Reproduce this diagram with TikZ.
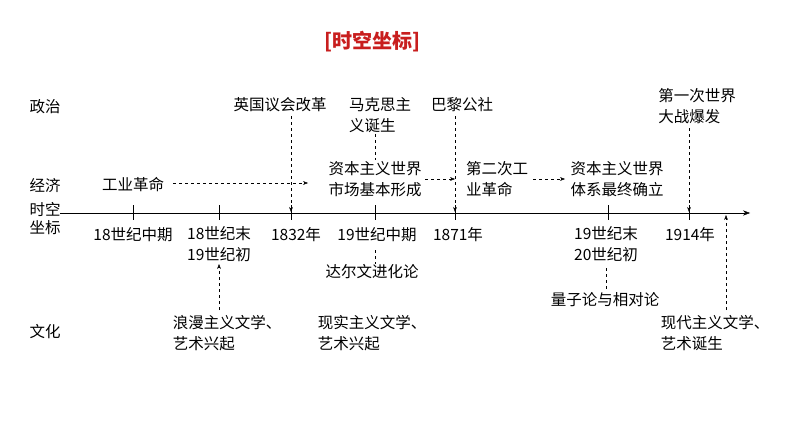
\documentclass[tikz,border=0pt]{standalone}
\usepackage{fontspec}
\setmainfont{Liberation Serif}
\newfontfamily\cjk{Noto Sans CJK SC}
\usetikzlibrary{arrows.meta}
\definecolor{titlered}{RGB}{200,30,30}
\tikzset{
  lbl/.style={font=\cjk\fontsize{15.5}{21}\selectfont, align=left, inner sep=1pt},
  dsh/.style={dashed, thin, -{Stealth[length=5pt]}},
  dln/.style={dashed, thin},
  tick/.style={thin}
}
\begin{document}
\begin{tikzpicture}[x=1pt,y=-1pt]
  \useasboundingbox (0,0) rectangle (794,447);
  % title
  \node[font=\cjk\bfseries\fontsize{20}{24}\selectfont, text=titlered] (title) at (372,42) {[时空坐标]};
  % row labels
  \node[lbl] (zz) at (45,107) {政治};
  \node[lbl] (jj) at (45,185) {经济};
  \node[lbl, font=\cjk\fontsize{15.5}{18}\selectfont] (sk) at (45,219) {时空\\坐标};
  \node[lbl] (wh) at (45,332) {文化};
  % axis
  \coordinate (a0) at (60,213);
  \coordinate (a1) at (750,213);
  \draw[thin, -{Stealth[length=7pt]}] (a0) -- (a1);
  \foreach \x in {133,219,291,375,455,608,689}{
    \draw[tick] (\x,205) -- (\x,220);
  }
  % dates
  \node[lbl] (d1) at (133,235) {18世纪中期};
  \node[lbl] (d2) at (219,244) {18世纪末\\19世纪初};
  \node[lbl] (d3) at (296,235) {1832年};
  \node[lbl] (d4) at (377,235) {19世纪中期};
  \node[lbl] (d5) at (458,235) {1871年};
  \node[lbl] (d6) at (606,244) {19世纪末\\20世纪初};
  \node[lbl] (d7) at (690,235) {1914年};
  % politics
  \node[lbl] (p1) at (280,105) {英国议会改革};
  \node[lbl] (p2) at (380,115) {马克思主\\义诞生};
  \node[lbl] (p3) at (462,105) {巴黎公社};
  \node[lbl] (p4) at (697,106) {第一次世界\\大战爆发};
  % economy
  \node[lbl] (e1) at (133,185) {工业革命};
  \node[lbl] (e2) at (375,179) {资本主义世界\\市场基本形成};
  \node[lbl] (e3) at (497,179) {第二次工\\业革命};
  \node[lbl] (e4) at (617,179) {资本主义世界\\体系最终确立};
  % culture
  \node[lbl] (c0) at (372,272) {达尔文进化论};
  \node[lbl] (c1) at (227,333) {浪漫主义文学、\\艺术兴起};
  \node[lbl] (c2) at (372,333) {现实主义文学、\\艺术兴起};
  \node[lbl] (c3) at (605,300) {量子论与相对论};
  \node[lbl] (c4) at (715,333) {现代主义文学、\\艺术诞生};
  % connectors
  \draw[dsh] (291,116) -- (291,212);
  \draw[dln] (p2.south -| 375,0) -- (e2.north -| 375,0);
  \draw[dsh] (455,116) -- (455,212);
  \draw[dsh] (689,128) -- (689,212);
  \draw[dsh] (173,183) -- (308,183);
  \draw[dsh] (425,179) -- (455,179);
  \draw[dsh] (533,179) -- (565,179);
  \draw[dln] (375,250) -- (c0.north -| 375,0);
  \draw[dsh] (219,310) -- (219,264);
  \draw[dln] (606,268) -- (c3.north -| 606,0);
  \draw[dsh] (726,310) -- (726,215);
\end{tikzpicture}
\end{document}
